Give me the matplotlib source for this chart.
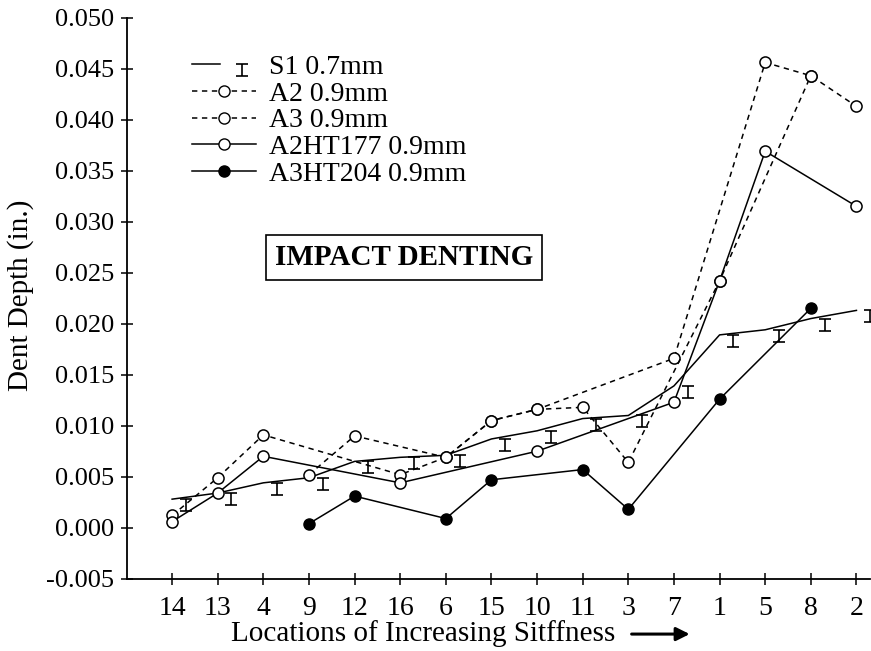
import numpy as np
import matplotlib
matplotlib.use("Agg")
import matplotlib.pyplot as plt
from matplotlib.path import Path
from matplotlib.lines import Line2D
from matplotlib.legend_handler import HandlerTuple

plt.rcParams["font.family"] = ["Liberation Serif", "DejaVu Serif"]
plt.rcParams["axes.unicode_minus"] = False

nan = np.nan

#  Data 
locations = ["14", "13", "4", "9", "12", "16", "6", "15",
             "10", "11", "3", "7", "1", "5", "8", "2"]

s1      = [0.0028, 0.0034, 0.0044, 0.0049, 0.0065, 0.0069, 0.0071, 0.0087,
           0.0095, 0.0107, 0.0110, 0.0139, 0.0189, 0.0194, 0.0205, 0.0213]
a2      = [0.0012, 0.0049, 0.0091, nan, nan, 0.0052, 0.0069, 0.0105,
           0.0116, nan, nan, 0.0166, nan, 0.0456, 0.0443, 0.0413]
a3      = [nan, nan, nan, 0.0052, 0.0090, nan, 0.0069, 0.0105,
           0.0116, 0.0118, 0.0064, nan, 0.0242, nan, 0.0443, nan]
a2ht177 = [0.0006, 0.0034, 0.0070, nan, nan, 0.0044, nan, nan,
           0.0075, nan, nan, 0.0123, 0.0242, 0.0369, nan, 0.0315]
a3ht204 = [nan, nan, nan, 0.0004, 0.0031, nan, 0.0009, 0.0047,
           nan, 0.0057, 0.0018, nan, 0.0126, nan, 0.0215, nan]

y_ticks = [-0.005, 0.000, 0.005, 0.010, 0.015, 0.020, 0.025,
           0.030, 0.035, 0.040, 0.045, 0.050]

x = np.arange(len(locations))

# "I" shaped marker hanging below the point
i_marker = Path([(-0.5, 0), (0.5, 0), (0, 0), (0, -1), (-0.5, -1), (0.5, -1)],
                [Path.MOVETO, Path.LINETO, Path.MOVETO, Path.LINETO,
                 Path.MOVETO, Path.LINETO])


def pts(vals):
    v = np.asarray(vals, dtype=float)
    m = ~np.isnan(v)
    return x[m], v[m]


fig = plt.figure(figsize=(8.71, 6.51), dpi=100)
ax = fig.add_axes([0.146, 0.111, 0.853, 0.862])

lw = 1.1
dash = (0, (3.5, 3))
# S1 0.7mm: solid line, I markers offset to the right
xs, ys = pts(s1)
ax.plot(xs, ys, "-", color="black", lw=lw)
ax.plot(xs + 0.3, ys, linestyle="none", marker=i_marker, ms=17,
        mfc="none", mec="black", mew=1.2)

xs, ys = pts(a2)
ax.plot(xs, ys, linestyle=dash, color="black", lw=lw,
        marker="o", ms=8, mfc="white", mec="black", mew=1.1)
xs, ys = pts(a3)
ax.plot(xs, ys, linestyle=dash, color="black", lw=lw,
        marker="o", ms=8, mfc="white", mec="black", mew=1.1)
xs, ys = pts(a2ht177)
ax.plot(xs, ys, "-", color="black", lw=lw,
        marker="o", ms=8, mfc="white", mec="black", mew=1.1)
xs, ys = pts(a3ht204)
ax.plot(xs, ys, "-", color="black", lw=lw,
        marker="o", ms=8, mfc="black", mec="black")

ax.set_xlim(-0.985, 15.3)
ax.set_ylim(-0.005, 0.050)
ax.set_xticks(x)
ax.set_xticklabels(locations, fontsize=20)
ax.set_yticks(y_ticks)
ax.set_yticklabels([f"{t:.3f}" for t in y_ticks], fontsize=19)
ax.tick_params(direction="inout", length=9, width=1.1, pad=5)
ax.tick_params(axis="x", pad=8)
for side in ["top", "right"]:
    ax.spines[side].set_visible(False)
for side in ["left", "bottom"]:
    ax.spines[side].set_linewidth(1.3)

# legend
h_s1 = (Line2D([], [], color="black", lw=lw),
        Line2D([], [], linestyle="none", marker=i_marker, ms=17,
               mfc="none", mec="black", mew=1.2))
h_a2 = Line2D([], [], linestyle=dash, color="black", lw=lw,
              marker="o", ms=8, mfc="white", mec="black")
h_a3 = Line2D([], [], linestyle=dash, color="black", lw=lw,
              marker="o", ms=8, mfc="white", mec="black")
h_ht1 = Line2D([], [], color="black", lw=lw,
               marker="o", ms=8, mfc="white", mec="black")
h_ht2 = Line2D([], [], color="black", lw=lw,
               marker="o", ms=8, mfc="black", mec="black")
ax.legend([h_s1, h_a2, h_a3, h_ht1, h_ht2],
          ["S1 0.7mm", "A2 0.9mm", "A3 0.9mm", "A2HT177 0.9mm", "A3HT204 0.9mm"],
          handler_map={tuple: HandlerTuple(ndivide=None, pad=0.3)},
          loc="upper left", bbox_to_anchor=(0.205, 0.938), bbox_transform=fig.transFigure,
          frameon=False, fontsize=20, handlelength=2.3, handletextpad=0.45,
          labelspacing=0.05, borderpad=0)

ax.text(5.08, 0.0265, "IMPACT DENTING", fontsize=21, fontweight="bold",
        ha="center", va="center",
        bbox=dict(boxstyle="square,pad=0.3", fc="white", ec="black", lw=1.2))

fig.text(0.023, 0.547, "Dent Depth (in.)", rotation=90, fontsize=21,
         ha="center", va="center")
fig.text(0.486, 0.027, "Locations of Increasing Sitffness", fontsize=21,
         ha="center", va="center")
fig.add_artist(matplotlib.patches.FancyArrowPatch(
    (0.722, 0.026), (0.795, 0.026), transform=fig.transFigure,
    arrowstyle="-|>,head_length=8,head_width=4", lw=2.2, color="black"))

fig.savefig("out.png", dpi=100)
